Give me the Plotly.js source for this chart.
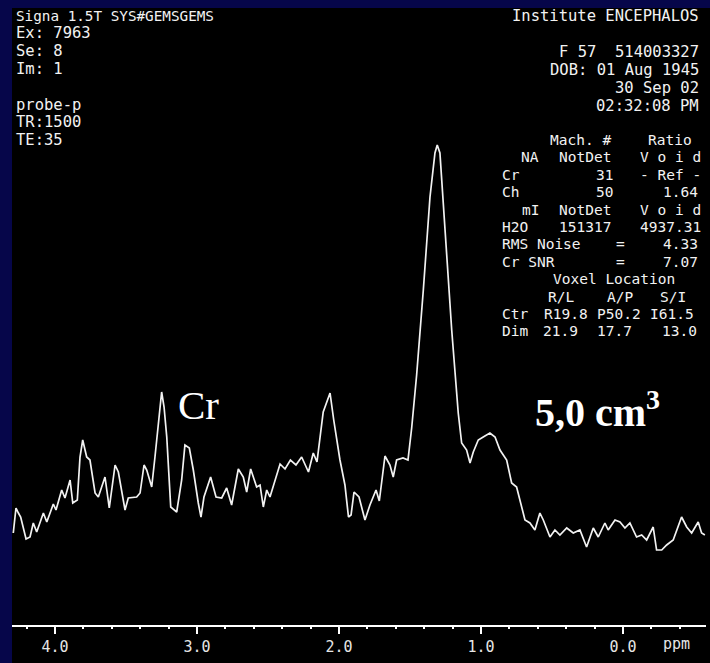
<!DOCTYPE html>
<html>
<head>
<meta charset="utf-8">
<script src="https://cdn.plot.ly/plotly-3.0.1.min.js"></script>
<style>html,body{margin:0;padding:0;background:#06064a;}#chart{width:710px;height:663px;}</style>
</head>
<body>
<div id="chart"></div>
<script>
// Chemical shift (ppm) and signal intensity (a.u.)
const ppm = [4.294,4.275,4.258,4.242,4.204,4.176,4.153,4.129,4.082,4.058,4.012,3.993,3.953,3.930,3.894,3.875,3.843,3.824,3.805,3.777,3.754,3.718,3.695,3.648,3.618,3.577,3.554,3.507,3.484,3.425,3.401,3.373,3.354,3.319,3.296,3.265,3.249,3.232,3.213,3.185,3.143,3.108,3.085,3.054,3.026,2.991,2.972,2.951,2.904,2.866,2.826,2.791,2.756,2.709,2.674,2.650,2.622,2.580,2.556,2.533,2.509,2.486,2.415,2.380,2.342,2.303,2.263,2.215,2.181,2.155,2.111,2.063,2.037,1.993,1.958,1.933,1.915,1.894,1.859,1.817,1.782,1.739,1.716,1.676,1.641,1.618,1.594,1.549,1.514,1.488,1.453,1.406,1.359,1.324,1.308,1.289,1.254,1.206,1.160,1.136,1.101,1.077,1.054,1.019,0.984,0.937,0.901,0.866,0.819,0.784,0.749,0.713,0.690,0.655,0.620,0.585,0.561,0.514,0.479,0.444,0.396,0.350,0.303,0.256,0.209,0.174,0.127,0.104,0.056,0.021,-0.014,-0.049,-0.096,-0.132,-0.167,-0.213,-0.237,-0.273,-0.308,-0.354,-0.413,-0.449,-0.484,-0.530,-0.554,-0.577];
const intensity = [92,117,112,108,86,88,102,93,112,103,121,115,135,127,145,122,125,168,185,168,165,132,128,148,117,160,153,115,127,128,132,160,155,138,168,212,233,218,188,118,113,145,180,177,155,122,108,128,148,128,127,137,120,156,148,133,156,138,140,118,135,128,161,156,165,160,168,153,172,163,213,232,205,165,140,108,110,133,128,105,120,135,124,169,160,148,165,167,165,197,250,335,428,472,480,472,395,295,212,182,175,162,173,185,188,192,188,175,165,142,138,118,105,102,95,112,105,88,95,90,97,92,95,78,97,88,102,95,105,103,97,102,88,90,85,98,75,75,80,85,108,98,92,103,92,90];

const xTickVals = [4, 3, 2, 1, 0];
const xTickText = ['4.0', '3.0', '2.0', '1.0', '0.0'];
const xRange = [4.303, -0.585];

const headerLeft = ['Signa 1.5T SYS#GEMSGEMS', 'Ex: 7963', 'Se: 8', 'Im: 1', 'probe-p', 'TR:1500', 'TE:35'];
const headerLeftY = [16, 33, 51, 69, 105, 122, 140];
const headerRight = ['Institute ENCEPHALOS', 'F 57\u00a0\u00a0514003327', 'DOB: 01 Aug 1945', '30 Sep 02', '02:32:08 PM'];
const headerRightY = [16, 52, 70, 88, 106];

// table: [text, x, row, anchor]
const tableCells = [
  ['Mach. #', 580, 0, 'center'], ['Ratio', 670, 0, 'center'],
  ['NA', 540, 1, 'right'], ['NotDet', 585, 1, 'center'], ['V o i d', 670, 1, 'center'],
  ['Cr', 501, 2, 'left'], ['31', 604, 2, 'center'], ['- Ref -', 670, 2, 'center'],
  ['Ch', 501, 3, 'left'], ['50', 604, 3, 'center'], ['1.64', 680, 3, 'center'],
  ['mI', 540, 4, 'right'], ['NotDet', 585, 4, 'center'], ['V o i d', 670, 4, 'center'],
  ['H2O', 501, 5, 'left'], ['151317', 585, 5, 'center'], ['4937.31', 670, 5, 'center'],
  ['RMS Noise', 501, 6, 'left'], ['=', 620, 6, 'center'], ['4.33', 680, 6, 'center'],
  ['Cr SNR', 501, 7, 'left'], ['=', 620, 7, 'center'], ['7.07', 680, 7, 'center'],
  ['Voxel Location', 614, 8, 'center'],
  ['R/L', 561, 9, 'center'], ['A/P', 620, 9, 'center'], ['S/I', 673, 9, 'center'],
  ['Ctr', 501, 10, 'left'], ['R19.8', 566, 10, 'center'], ['P50.2', 619, 10, 'center'], ['I61.5', 672, 10, 'center'],
  ['Dim', 501, 11, 'left'], ['21.9', 560, 11, 'center'], ['17.7', 614, 11, 'center'], ['13.0', 679, 11, 'center']
];

const W = 710, H = 663, ML = 12, MR = 4, MT = 8, MB = 38;
const PW = W - ML - MR, PH = H - MT - MB;
const PX = x => (x - ML) / PW;
const PY = y => (H - MB - y) / PH;

const mono = {family: 'DejaVu Sans Mono', size: 15.5, color: '#f2f2f2'};
const annotations = [];
headerLeft.forEach((t, i) => annotations.push({text: t, x: PX(15), y: PY(headerLeftY[i]), xanchor: 'left',
  font: i === 0 ? {family: 'DejaVu Sans Mono', size: 14.3, color: '#f2f2f2'} : mono}));
headerRight.forEach((t, i) => annotations.push({text: t, x: PX(700), y: PY(headerRightY[i]), xanchor: 'right', font: mono}));
tableCells.forEach(c => annotations.push({text: c[0], x: PX(c[1]), y: PY(140 + c[2] * 17.4), xanchor: c[3],
  font: {family: 'DejaVu Sans Mono', size: 14.5, color: '#f2f2f2'}}));
annotations.forEach(a => { a.xref = 'paper'; a.yref = 'paper'; a.yanchor = 'middle'; a.showarrow = false; a.borderpad = 0; });
annotations.push({text: 'ppm', xref: 'x', x: -0.38, yref: 'paper', y: PY(644), xanchor: 'center', yanchor: 'middle', showarrow: false, font: {family: 'DejaVu Sans Mono', size: 15, color: '#e6e6e6'}});
annotations.push({text: 'Cr', xref: 'paper', x: PX(176), yref: 'paper', y: PY(405), xanchor: 'left', yanchor: 'middle', showarrow: false, font: {family: 'Liberation Serif', size: 41, color: '#ffffff'}});
annotations.push({text: '<b>5,0 cm<sup>3</sup></b>', xref: 'paper', x: PX(533), yref: 'paper', y: PY(409), xanchor: 'left', yanchor: 'middle', showarrow: false, font: {family: 'Liberation Serif', size: 40, color: '#ffffff'}});

const tickStyle = {tickcolor: '#ffffff', tickwidth: 2};
const layout = {
  width: W, height: H,
  margin: {l: ML, r: MR, t: MT, b: MB, pad: 0},
  paper_bgcolor: '#06064a',
  plot_bgcolor: '#000000',
  showlegend: false,
  xaxis: Object.assign({
    range: xRange, autorange: false, showgrid: false, zeroline: false,
    showline: true, linecolor: '#ffffff', linewidth: 2,
    tickmode: 'array', tickvals: xTickVals, ticktext: xTickText,
    ticks: 'outside', ticklen: 7, ticklabelstandoff: 0,
    tickfont: {family: 'DejaVu Sans Mono', size: 15, color: '#e6e6e6'},
    minor: {dtick: 0.2, tick0: 0, ticks: 'outside', ticklen: 2, tickwidth: 2, tickcolor: '#ffffff', showgrid: false}
  }, tickStyle),
  xaxis2: Object.assign({
    overlaying: 'x', anchor: 'y', side: 'bottom',
    range: xRange, autorange: false, showgrid: false, zeroline: false, showline: false,
    tickmode: 'array', tickvals: xTickVals, showticklabels: false,
    ticks: 'inside', ticklen: 7,
    minor: {dtick: 0.2, tick0: 0, ticks: 'inside', ticklen: 2, tickwidth: 2, tickcolor: '#ffffff', showgrid: false}
  }, tickStyle),
  yaxis: {range: [0, PH], autorange: false, visible: false, fixedrange: true},
  shapes: [{type: 'rect', xref: 'paper', yref: 'paper', x0: PX(12), x1: PX(710), y0: PY(663), y1: PY(8), fillcolor: '#000000', line: {width: 0}, layer: 'below'}],
  annotations: annotations
};

const traces = [{
  type: 'scatter', mode: 'lines', x: ppm, y: intensity,
  line: {color: '#f2f2f2', width: 1.7}, hoverinfo: 'skip'
}];

Plotly.newPlot('chart', traces, layout, {staticPlot: true, displayModeBar: false});
</script>
</body>
</html>
